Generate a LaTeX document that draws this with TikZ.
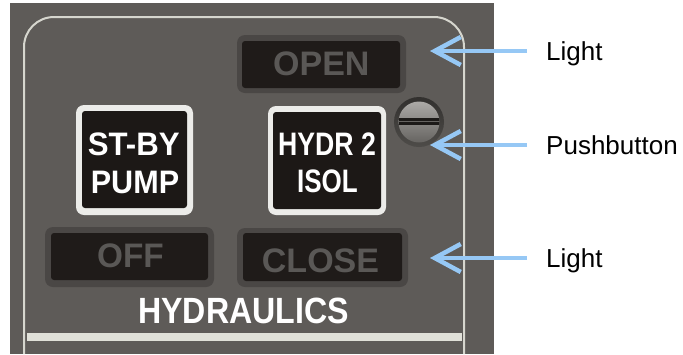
\documentclass[tikz,border=0pt]{standalone}
\usepackage{fontspec}
\usepackage{graphicx}
\setmainfont{Liberation Sans}
\usetikzlibrary{arrows.meta}
\definecolor{panelgray}{RGB}{94,91,88}
\definecolor{rimline}{RGB}{214,214,206}
\definecolor{barcol}{RGB}{224,224,216}
\definecolor{bezel}{RGB}{74,71,69}
\definecolor{lampblack}{RGB}{31,27,25}
\definecolor{lamptext}{RGB}{90,88,86}
\definecolor{btnwhite}{RGB}{236,236,233}
\definecolor{btnblack}{RGB}{28,24,22}
\definecolor{ringtop}{RGB}{50,48,46}
\definecolor{ringbottom}{RGB}{78,76,73}
\definecolor{screwlight}{RGB}{172,170,167}
\definecolor{screwdark}{RGB}{102,100,97}
\definecolor{slotcol}{RGB}{28,26,24}
\definecolor{calloutblue}{RGB}{150,200,245}
\begin{document}
\begin{tikzpicture}[x=1pt,y=-1pt,
  lampbezel/.style={fill=bezel, rounded corners=8pt},
  lampface/.style={fill=lampblack, rounded corners=3pt},
  btnrim/.style={fill=btnwhite, rounded corners=8pt},
  btnface/.style={fill=btnblack, rounded corners=3pt},
  lamptxt/.style={text=lamptext, inner sep=0pt, font=\fontsize{34}{34}\selectfont\bfseries, text height=24.3pt, text depth=0pt},
  btntxt/.style={text=white, inner sep=0pt, font=\fontsize{32.5}{32.5}\selectfont\bfseries, text height=23.3pt, text depth=0pt},
  paneltxt/.style={text=white, inner sep=0pt, font=\fontsize{36.5}{36.5}\selectfont\bfseries, text height=26.1pt, text depth=0pt},
  calloutlbl/.style={anchor=west, inner xsep=19pt, inner ysep=0pt, font=\fontsize{26}{26}\selectfont, text height=18.6pt, text depth=0pt},
  callout/.style={draw=calloutblue, line width=4.5pt, -{Straight Barb[length=26pt,width=28pt]}}
]
\useasboundingbox (0,0) rectangle (683,354);
% panel
\fill[panelgray] (10,3) rectangle (494,354);
\draw[rimline, line width=2pt, rounded corners=30pt] (24,354) -- (24,17) -- (464,17) -- (464,354);
\fill[barcol] (27,333) rectangle (462,341);
% lamps
\fill[lampbezel] (237,35) rectangle (406,93);
\fill[lampface] (242,41) rectangle (400,88);
\fill[lampbezel] (45,227) rectangle (214,287);
\fill[lampface] (51,233) rectangle (208,280);
\fill[lampbezel] (237,228) rectangle (408,287);
\fill[lampface] (243,233) rectangle (402,281);
\node[lamptxt] (open) at (321.3,63.8) {OPEN};
\node[lamptxt] (off) at (130.5,255.8) {\scalebox{0.98}[1]{OFF}};
\node[lamptxt] (close) at (320.5,260) {CLOSE};
% buttons
\fill[btnrim] (76,105) rectangle (193,215);
\fill[btnface] (82,111) rectangle (187,208);
\fill[btnrim] (268,106) rectangle (386,215);
\fill[btnface] (273,112) rectangle (381,209);
\node[btntxt] (stby) at (133.7,144.3) {\scalebox{0.96}[1]{ST-BY}};
\node[btntxt] (pump) at (135,181.7) {\scalebox{0.94}[1]{PUMP}};
\node[btntxt] (hydr) at (327,143.8) {\scalebox{0.82}[1]{HYDR 2}};
\node[btntxt] (isol) at (327.5,181.3) {\scalebox{0.8}[1]{ISOL}};
% screw
\shade[top color=ringtop, bottom color=ringbottom] (419,122) circle[radius=25pt];
\shade[top color=screwlight, bottom color=screwdark] (419,122) circle[radius=20.5pt];
\begin{scope}
  \clip (419,122) circle[radius=20.5pt];
  \fill[slotcol] (397,118) rectangle (442,125);
  \fill[screwdark] (397,121) rectangle (442,122.3);
\end{scope}
% title
\node[paneltxt] (hyd) at (243.5,310) {\scalebox{0.88}[1]{HYDRAULICS}};
% callouts
\coordinate (tip1) at (430,51);
\coordinate (tip2) at (430,145);
\coordinate (tip3) at (430,258);
\node[calloutlbl] (lbl1) at (527,51) {Light};
\node[calloutlbl] (lbl2) at (527,145) {Pushbutton};
\node[calloutlbl] (lbl3) at (527,258) {Light};
\draw[callout] (lbl1.west) -- (tip1);
\draw[callout] (lbl2.west) -- (tip2);
\draw[callout] (lbl3.west) -- (tip3);
\end{tikzpicture}
\end{document}
